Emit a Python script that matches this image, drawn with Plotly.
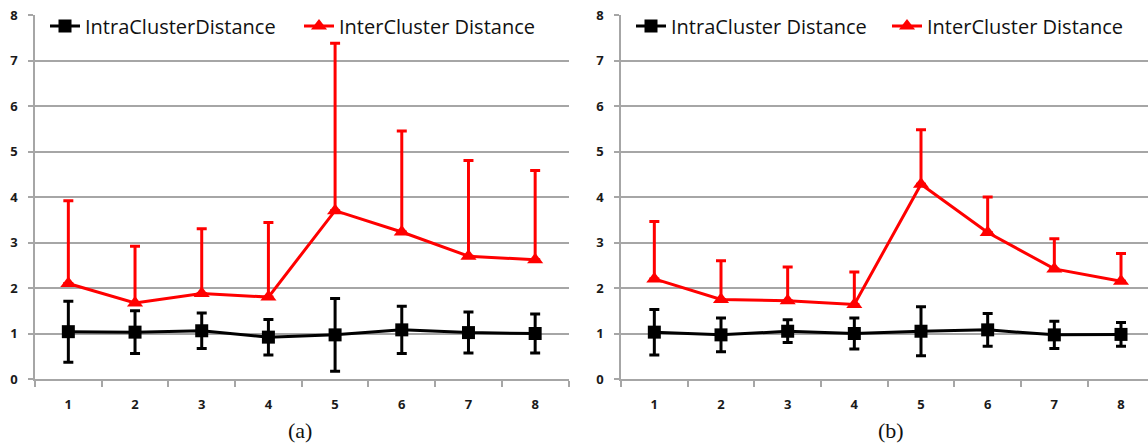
import plotly.graph_objects as go

categories = [1, 2, 3, 4, 5, 6, 7, 8]
tick_labels = ["1", "2", "3", "4", "5", "6", "7", "8"]

# Panel (a)
intra_a = [1.04, 1.03, 1.06, 0.92, 0.97, 1.08, 1.02, 1.00]
intra_a_err = [0.67, 0.47, 0.39, 0.39, 0.80, 0.52, 0.45, 0.43]
inter_a = [2.10, 1.67, 1.88, 1.80, 3.70, 3.23, 2.70, 2.62]
inter_a_err = [1.82, 1.25, 1.42, 1.64, 3.68, 2.22, 2.10, 1.96]

# Panel (b)
intra_b = [1.03, 0.97, 1.05, 1.00, 1.05, 1.08, 0.97, 0.98]
intra_b_err = [0.50, 0.37, 0.25, 0.34, 0.54, 0.36, 0.30, 0.26]
inter_b = [2.20, 1.75, 1.72, 1.64, 4.28, 3.22, 2.42, 2.15]
inter_b_err = [1.26, 0.85, 0.74, 0.71, 1.20, 0.78, 0.66, 0.61]

W, H = 1148, 444
BLACK = "#000000"
RED = "#ff0000"
zeros = [0] * len(categories)

fig = go.Figure()

def add_panel(xa, ya, legend, intra, intra_err, inter, inter_err, intra_name):
    fig.add_trace(go.Scatter(
        x=categories, y=intra, name=intra_name, mode="lines+markers",
        xaxis=xa, yaxis=ya, legend=legend,
        line=dict(color=BLACK, width=3),
        marker=dict(symbol="square", size=13, color=BLACK),
        error_y=dict(type="data", array=intra_err, symmetric=True,
                     color=BLACK, thickness=3, width=5),
    ))
    fig.add_trace(go.Scatter(
        x=categories, y=inter, name="InterCluster Distance", mode="lines+markers",
        xaxis=xa, yaxis=ya, legend=legend,
        line=dict(color=RED, width=3),
        marker=dict(symbol="triangle-up", size=14, color=RED),
        error_y=dict(type="data", array=inter_err, arrayminus=zeros,
                     symmetric=False, color=RED, thickness=3, width=5),
    ))

add_panel("x", "y", "legend", intra_a, intra_a_err, inter_a, inter_a_err,
          "IntraClusterDistance")
add_panel("x2", "y2", "legend2", intra_b, intra_b_err, inter_b, inter_b_err,
          "IntraCluster Distance")

ydom = [65 / H, 429 / H]
xdom1 = [35 / W, 568.5 / W]
xdom2 = [621 / W, 1.0]
boundaries = [c - 0.5 for c in categories] + [categories[-1] + 0.5]

tickfont = dict(family="Open Sans", size=13, color="#1a1a1a", weight="bold")
grid = "#a6a6a6"

def xaxis(dom, rng, anchor):
    return dict(
        domain=dom, range=rng, anchor=anchor,
        tickmode="array", tickvals=categories, ticktext=tick_labels,
        ticks="", showgrid=False, zeroline=False,
        showline=True, linecolor=grid, linewidth=1.5,
        tickfont=tickfont, ticklabelstandoff=13,
        minor=dict(tickmode="array", tickvals=boundaries, ticks="outside",
                   ticklen=6, tickcolor=grid, tickwidth=1.5, showgrid=False),
    )

def yaxis(anchor):
    return dict(
        domain=ydom, range=[0, 8], anchor=anchor,
        tickmode="array", tickvals=list(range(9)),
        ticks="outside", ticklen=5, tickcolor=grid, tickwidth=1.5,
        showgrid=True, gridcolor=grid, gridwidth=1.5, zeroline=False,
        showline=True, linecolor=grid, linewidth=1.5,
        tickfont=tickfont, ticklabelstandoff=8,
    )

legend_font = dict(family="Open Sans", size=20, color="#111111")

fig.update_layout(
    width=W, height=H,
    margin=dict(l=0, r=0, t=0, b=0, autoexpand=False),
    paper_bgcolor="white", plot_bgcolor="white",
    xaxis=xaxis(xdom1, [0.5, 8.5], "y"),
    yaxis=yaxis("x"),
    xaxis2=xaxis(xdom2, [0.5, 8.405], "y2"),
    yaxis2=yaxis("x2"),
    legend=dict(orientation="h", x=45 / W, y=1 - 26 / H, xanchor="left",
                yanchor="middle", bgcolor="rgba(0,0,0,0)", font=legend_font,
                entrywidth=209, entrywidthmode="pixels", itemwidth=30),
    legend2=dict(orientation="h", x=631 / W, y=1 - 26 / H, xanchor="left",
                 yanchor="middle", bgcolor="rgba(0,0,0,0)", font=legend_font,
                 entrywidth=211, entrywidthmode="pixels", itemwidth=30),
    annotations=[
        dict(text="(a)", x=300 / W, y=1 - 430 / H, xref="paper", yref="paper",
             xanchor="center", yanchor="middle", showarrow=False,
             font=dict(family="Liberation Serif", size=22, color="#111")),
        dict(text="(b)", x=891 / W, y=1 - 430 / H, xref="paper", yref="paper",
             xanchor="center", yanchor="middle", showarrow=False,
             font=dict(family="Liberation Serif", size=22, color="#111")),
    ],
)

fig.write_html("out.html",
               config={"displayModeBar": False},
               post_script="document.body.style.margin='0';document.body.style.overflow='hidden';")
